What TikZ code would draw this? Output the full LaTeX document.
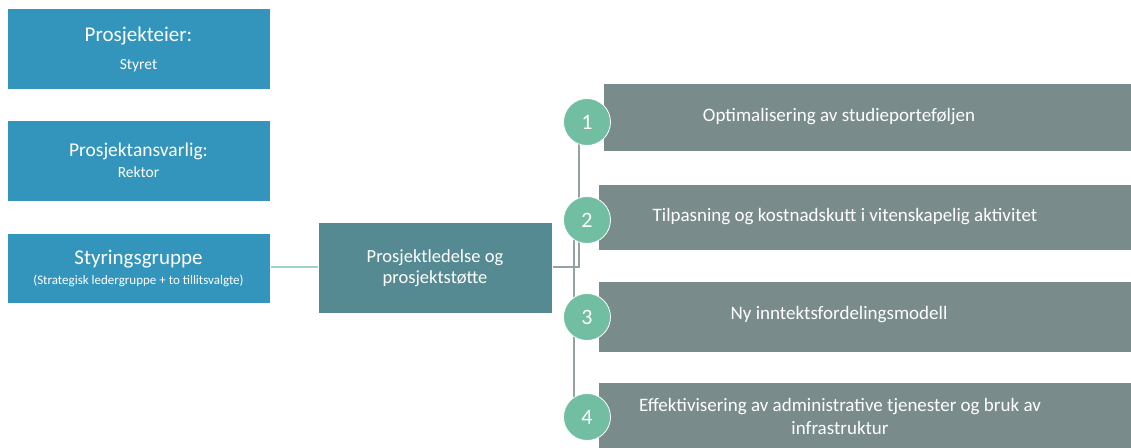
\documentclass[tikz,border=0pt]{standalone}
\usepackage{fontspec}
\setmainfont{Carlito}
\definecolor{lblue}{HTML}{3394BC}
\definecolor{mteal}{HTML}{558A93}
\definecolor{rgray}{HTML}{7A8B8B}
\definecolor{cgreen}{HTML}{72BEA3}
\definecolor{lgreen}{HTML}{9ED3C2}
\definecolor{lgray}{HTML}{93A3A3}
\tikzset{
  box/.style={draw=white, line width=0.6pt, inner sep=0pt, anchor=north west, text=white},
  leftbox/.style={box, fill=lblue, minimum width=263pt, minimum height=81pt},
  rbox/.style={box, fill=rgray, minimum height=68pt},
  numc/.style={circle, fill=cgreen, draw=white, line width=0.8pt, minimum size=47pt, inner sep=0pt, text=white, font=\fontsize{22}{24}\selectfont},
  wt/.style={text=white, inner sep=0pt, align=center},
  conn/.style={line width=1.4pt},
}
\begin{document}
\begin{tikzpicture}[x=1pt,y=-1pt]
\useasboundingbox (0,0) rectangle (1131,447);
% left boxes
\node[leftbox] (b1) at (7,8) {};
\node[leftbox] (b2) at (7,120) {};
\node[leftbox, minimum height=70pt] (b3) at (7,233) {};
\node[wt, font=\fontsize{21}{24}\selectfont] (t1a) at (138.5,36) {Prosjekteier:};
\node[wt, font=\fontsize{15.5}{18}\selectfont] (t1b) at (138.5,66) {Styret};
\node[wt, font=\fontsize{19.5}{23}\selectfont] (t2a) at (138.5,151) {Prosjektansvarlig:};
\node[wt, font=\fontsize{15.5}{18}\selectfont] (t2b) at (138.5,172) {Rektor};
\node[wt, font=\fontsize{21}{24}\selectfont] (t3a) at (138.5,259) {Styringsgruppe};
\node[wt, font=\fontsize{13}{15}\selectfont] (t3b) at (138.5,281) {(Strategisk ledergruppe + to tillitsvalgte)};
% middle box
\node[box, fill=mteal, minimum width=234pt, minimum height=91pt] (m) at (318,222) {};
\node[wt, font=\fontsize{18.5}{21}\selectfont] (mt) at (435,268) {Prosjektledelse og\\prosjektstøtte};
% right boxes
\node[rbox, minimum width=540pt] (r1) at (603,83) {};
\node[rbox, minimum width=545pt, minimum height=66pt] (r2) at (598,184) {};
\node[rbox, minimum width=545pt, minimum height=71pt] (r3) at (598,281) {};
\node[rbox, minimum width=545pt, minimum height=70pt] (r4) at (598,382) {};
% connectors
\coordinate (jA) at (579,267);
\draw[conn, lgreen] (b3.east |- 0,267) -- (m.west |- 0,267);
\draw[conn, lgray] (m.east |- jA) -- (jA) -- (579,140);
\coordinate (c2p) at (574,240);
\coordinate (c4p) at (574,400);
\draw[conn, lgray] (c2p) -- (c4p);
% circles
\node[numc] (n1) at (587,122) {1};
\node[numc] (n2) at (587,220) {2};
\node[numc] (n3) at (587,317) {3};
\node[numc] (n4) at (587,417) {4};
% right texts
\node[wt, font=\fontsize{19}{22}\selectfont] (rt1) at (839,117) {Optimalisering av studieporteføljen};
\node[wt, font=\fontsize{19}{22}\selectfont] (rt2) at (845,217) {Tilpasning og kostnadskutt i vitenskapelig aktivitet};
\node[wt, font=\fontsize{19}{22}\selectfont] (rt3) at (839,315) {Ny inntektsfordelingsmodell};
\node[wt, font=\fontsize{19}{23}\selectfont] (rt4) at (840,416) {Effektivisering av administrative tjenester og bruk av\\infrastruktur};
\end{tikzpicture}
\end{document}
